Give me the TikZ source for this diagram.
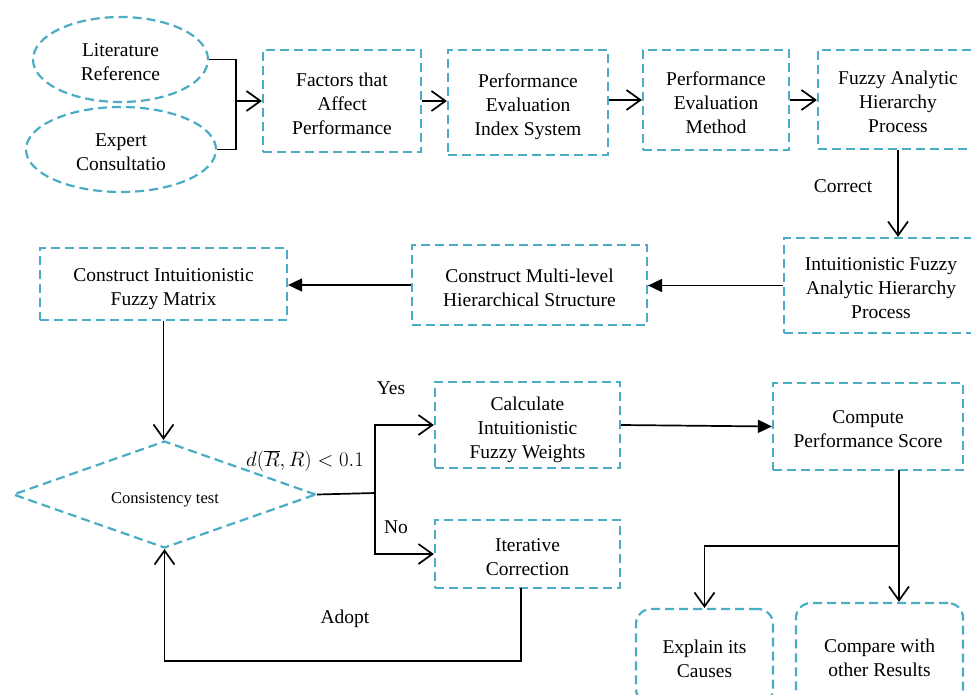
\documentclass[tikz,border=0pt]{standalone}
\usepackage{fontspec}
\setmainfont{Liberation Serif}
\usetikzlibrary{shapes.geometric,arrows.meta}
\definecolor{dashc}{HTML}{4BACC6}
\newcommand{\ml}[1]{\raisebox{0pt}[\dimexpr\height+9pt\relax][\depth]{\begin{tabular}{@{}c@{}}#1\end{tabular}}}
\begin{document}
\begin{tikzpicture}[x=1pt,y=-1pt,
  txt/.style={font=\fontsize{19.5}{24}\selectfont, align=center},
  box/.style={font=\fontsize{19.5}{24}\selectfont, draw=dashc, line width=2.2pt, dash pattern=on 9pt off 5pt, inner sep=0pt},
  rbox/.style={box, rounded corners=15pt},
  ell/.style={box, ellipse},
  dia/.style={draw=dashc, line width=2.2pt, dash pattern=on 9pt off 5pt, inner sep=0pt, diamond},
  conn/.style={draw=black, line width=1.7pt},
  barb/.style={conn, -{Straight Barb[length=14pt,width=20pt,line width=1.7pt]}},
  tri/.style={conn, -{Triangle[length=14pt,width=13pt]}},
  lbl/.style={txt, inner sep=0pt}
]
\useasboundingbox (0,0) rectangle (971,695);
\clip (0,0) rectangle (971,695);

% top row
\node[ell, minimum width=175, minimum height=85] (e1) at (120.5,59.5) {\ml{Literature\\Reference}};
\node[ell, minimum width=190, minimum height=85] (e2) at (121,149.5) {\ml{Expert\\Consultatio}};
\node[box, minimum width=158, minimum height=102] (b1) at (342,101) {\ml{Factors that\\Affect\\Performance}};
\node[box, minimum width=160, minimum height=105] (b2) at (528,102.5) {\ml{Performance\\Evaluation\\Index System}};
\node[box, minimum width=146, minimum height=100] (b3) at (716,100) {\ml{Performance\\Evaluation\\Method}};
\node[box, minimum width=160, minimum height=99] (b4) at (898,99.5) {\ml{Fuzzy Analytic\\Hierarchy\\Process}};

% second row
\node[box, minimum width=194, minimum height=95] (b5) at (881,285.5) {\ml{Intuitionistic Fuzzy\\Analytic Hierarchy\\Process}};
\node[box, minimum width=235, minimum height=80] (b6) at (529.5,285) {\ml{Construct Multi-level\\Hierarchical Structure}};
\node[box, minimum width=247, minimum height=72] (b7) at (163.5,284) {\ml{Construct Intuitionistic\\Fuzzy Matrix}};

% lower part
\node[dia, minimum width=303, minimum height=107] (dm) at (164.5,494.5) {};
\node[lbl, font=\fontsize{16.5}{20}\selectfont] (dmt) at (165,500) {Consistency test};
\node[box, minimum width=185, minimum height=86] (calc) at (527.5,425) {\ml{Calculate\\Intuitionistic\\Fuzzy Weights}};
\node[box, minimum width=185, minimum height=68] (iter) at (527.5,554) {\ml{Iterative\\Correction}};
\node[box, minimum width=190, minimum height=87] (comp) at (868,426.5) {\ml{Compute\\Performance Score}};
\node[rbox, minimum width=137, minimum height=95] (expl) at (704.5,656.5) {\ml{Explain its\\Causes}};
\node[rbox, minimum width=167, minimum height=104] (cmpr) at (879.5,655) {\ml{Compare with\\other Results}};

% labels
\node[lbl] (lcorr) at (843,186) {Correct};
\node[lbl] (lyes) at (391,388) {Yes};
\node[lbl] (lno) at (396,527) {No};
\node[lbl] (ladopt) at (345,619) {Adopt};
\node[lbl, font=\fontsize{20}{24}\selectfont] (lcond) at (305,461) {$d(\overline{R},R)<0.1$};

% connectors top
\coordinate (j1) at (236,0);
\draw[conn] (e1.east) -- (e1.east -| j1) -- (e2.east -| j1) -- (e2.east);
\draw[barb] (b1.west -| j1) -- (b1.west);
\draw[barb] (b1.east) -- (b1.east -| b2.west);
\draw[barb] (b3.west -| b2.east) -- (b3.west);
\draw[barb] (b3.east) -- (b3.east -| b4.west);
\draw[barb] (b4.south) -- (b4.south |- b5.north);
\draw[tri] (b5.west) -- (b5.west -| b6.east);
\draw[tri] (b6.west) -- (b6.west -| b7.east);
\draw[barb] (b7.south) -- (b7.south |- dm.north);

% decision
\coordinate (j2) at (375,493);
\draw[conn] (dm.east) -- (j2);
\draw[barb] (j2) -- (j2 |- calc.west) -- (calc.west);
\draw[barb] (j2) -- (j2 |- iter.west) -- (iter.west);
\coordinate (i1) at (521,588);
\coordinate (i2) at (521,661);
\draw[barb] (i1) -- (i2) -- (i2 -| dm.south) -- (dm.south);
\draw[tri] (calc.east) -- (comp.west);

% results
\coordinate (c1) at (899,470);
\coordinate (j3) at (899,546);
\draw[barb] (c1) -- (c1 |- cmpr.north);
\draw[barb] (j3) -- (j3 -| expl.north) -- (expl.north);
\end{tikzpicture}
\end{document}
